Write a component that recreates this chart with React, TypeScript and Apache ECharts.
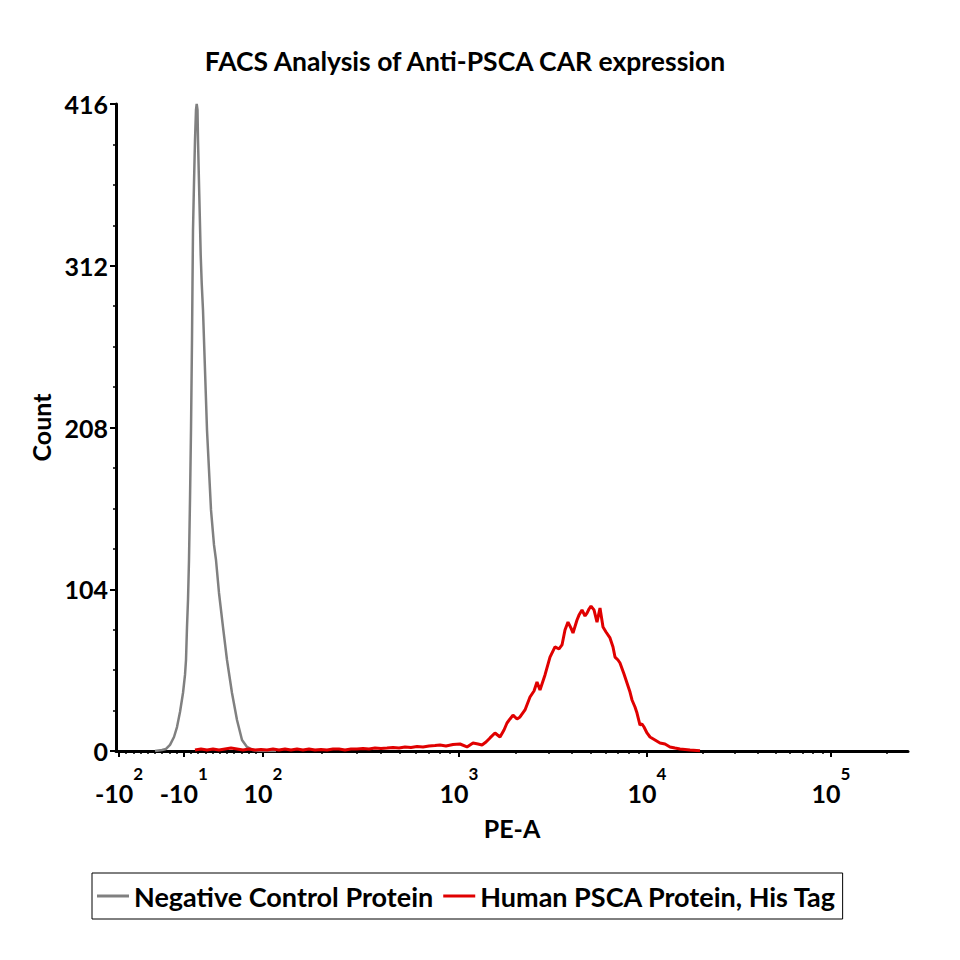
import React, { useEffect, useRef } from 'react';
import * as echarts from 'echarts';

const TITLE = 'FACS Analysis of Anti-PSCA CAR expression';
const X_NAME = 'PE-A';
const Y_NAME = 'Count';
const SERIES_NAMES = ['Negative Control Protein', 'Human PSCA Protein, His Tag'];
const SERIES_COLORS = ['#808080', '#e00000'];

const Y_MAX = 416;
const Y_INTERVAL = 104;

// display channel scale (biexponential display), 0..X_MAX_CH
const X_MAX_CH = 792;
const ZERO_CH = 75;
const LIN_SLOPE = 0.72; // channels per intensity unit in the linear zone
const DECADE_CH: Record<number, number> = { 2: 147, 3: 343, 4: 531, 5: 715 };

// major ticks (intensity values) and labels as base / exponent
const MAJOR_VALUES = [-100, -10, 100, 1000, 10000, 100000];
const MAJOR_BASE = ['-10', '-10', '10', '10', '10', '10'];
const MAJOR_EXP = ['2', '1', '2', '3', '4', '5'];
const MINOR_VALUES = [
  -90, -80, -70, -60, -50, -40, -30, -20, 0, 10, 20, 30, 40, 50, 60, 70, 80, 90,
  200, 300, 400, 500, 600, 700, 800, 900,
  2000, 3000, 4000, 5000, 6000, 7000, 8000, 9000,
  20000, 30000, 40000, 50000, 60000, 70000, 80000, 90000, 200000,
];

// histogram: [display channel, count]
const NEG_CONTROL: [number, number][] = [
  [39, 0], [46, 0.6], [50, 1.3], [54, 3.9], [58, 9.0], [61, 15.4], [64, 25.1],
  [67, 37.3], [69, 48.9], [70, 58.5], [71, 79.7], [72, 97.1], [73, 122.8],
  [74, 161.4], [75, 206.4], [76, 264.3], [76.5, 300.9], [77, 335.0], [78, 365.2],
  [79, 392.9], [80, 412.2], [80.7, 416], [81.5, 412.2], [82, 392.9], [83, 365.2],
  [84, 338.2], [84.7, 318.9], [85.7, 300.9], [87, 283.5], [88, 264.3], [89, 245.0],
  [90, 225.7], [91, 206.4], [93, 180.7], [95, 155.0], [98, 132.5], [100, 122.8],
  [103, 101.6], [107, 79.7], [111, 58.5], [116, 37.3], [121, 19.9], [126, 7.1],
  [131, 2.6], [137, 0.6], [146, 0], [160, 0],
];

const PSCA: [number, number][] = [
  [79, 0.6], [85, 1.3], [91, 0.6], [97, 1.3], [103, 0.6], [109, 1.3], [115, 1.9],
  [121, 1.3], [127, 0.6], [133, 1.3], [139, 0.6], [145, 1.0], [151, 0.6], [157, 1.3],
  [163, 0.6], [169, 1.3], [175, 0.6], [181, 1.3], [187, 0.6], [193, 1.3], [199, 0.6],
  [205, 1.0], [211, 0.6], [217, 1.3], [223, 1.3], [229, 0.6], [235, 1.3], [241, 1.3],
  [247, 1.6], [253, 1.3], [259, 1.9], [265, 1.6], [271, 1.9], [277, 2.3], [283, 1.9],
  [289, 2.6], [295, 2.3], [301, 2.9], [307, 2.6], [313, 3.2], [319, 3.5], [324, 3.9],
  [330, 3.2], [337, 4.2], [344, 4.5], [351, 2.6], [357, 5.1], [362, 4.5], [366, 3.9],
  [370, 5.8], [374, 8.4], [379, 11.6], [384, 9.0], [388, 13.5], [391, 18.0],
  [394, 20.6], [397, 23.1], [401, 20.6], [404, 21.9], [409, 26.4], [414, 34.7],
  [418, 38.6], [421, 44.4], [424, 39.2], [429, 48.9], [434, 60.4], [439, 66.9],
  [443, 65.6], [446, 68.2], [449, 77.8], [452, 82.9], [455, 79.0], [457, 75.9],
  [461, 84.2], [463, 87.4], [466, 90.7], [469, 86.8], [471, 88.7], [473, 91.3],
  [475, 93.2], [478, 90.7], [481, 82.9], [484, 91.9], [487, 79.7], [490, 76.5],
  [494, 72.7], [497, 66.9], [499, 60.4], [502, 58.5], [504, 56.6], [508, 49.5],
  [511, 43.7], [514, 37.9], [516, 32.8], [519, 28.3], [521, 24.4], [524, 16.7],
  [526, 17.4], [528, 15.4], [531, 11.6], [534, 9.0], [539, 7.1], [544, 5.1],
  [549, 4.5], [554, 2.6], [559, 1.9], [564, 1.3], [574, 0.6], [584, 0.2],
];

function toChannel(v: number): number {
  if (Math.abs(v) <= 100) return ZERO_CH + v * LIN_SLOPE;
  if (v < 0) return 2 * ZERO_CH - toChannel(-v);
  const e = Math.log10(v);
  let d = Math.floor(e);
  if (d >= 5) d = 4;
  return DECADE_CH[d] + (e - d) * (DECADE_CH[d + 1] - DECADE_CH[d]);
}

const FONT = 'Lato';

export default function App() {
  const ref = useRef<HTMLDivElement>(null);
  useEffect(() => {
    if (!ref.current) return;
    const chart = echarts.init(ref.current, undefined, { renderer: 'svg' });
    const majorCh = MAJOR_VALUES.map(toChannel);
    const minorCh = MINOR_VALUES.map(toChannel);
    const nearestMajor = (v: number) => {
      let best = 0;
      majorCh.forEach((c, i) => {
        if (Math.abs(c - v) < Math.abs(majorCh[best] - v)) best = i;
      });
      return best;
    };
    const option: any = {
      animation: false,
      backgroundColor: '#ffffff',
      title: {
        text: TITLE,
        left: 460,
        textAlign: 'center',
        top: 42,
        textStyle: { fontFamily: FONT, fontWeight: 'bold', fontSize: 26.5, color: '#000' },
      },
      legend: {
        left: 92,
        top: 873,
        orient: 'horizontal',
        icon: 'rect',
        itemWidth: 32,
        itemHeight: 3,
        itemGap: 10,
        padding: [7, 6, 7, 5],
        borderColor: '#000',
        borderWidth: 1,
        textStyle: { fontFamily: FONT, fontWeight: 'bold', fontSize: 27, color: '#000', lineHeight: 32 },
        data: SERIES_NAMES,
      },
      grid: { left: 116, right: 960 - 116 - X_MAX_CH, top: 104, bottom: 209, containLabel: false },
      xAxis: [
        {
          type: 'value',
          min: 0,
          max: X_MAX_CH,
          position: 'bottom',
          name: X_NAME,
          nameLocation: 'middle',
          nameGap: 64,
          nameTextStyle: { fontFamily: FONT, fontWeight: 'bold', fontSize: 25, color: '#000' },
          axisLine: { show: true, lineStyle: { color: '#000', width: 3 } },
          axisTick: { show: true, customValues: majorCh, length: 6, lineStyle: { color: '#000', width: 2 } },
          axisLabel: {
            show: true,
            customValues: majorCh,
            margin: 26,
            formatter: (v: number) => {
              const i = nearestMajor(v);
              return `{b|${MAJOR_BASE[i]}}{s|${MAJOR_EXP[i]}}`;
            },
            rich: {
              b: { fontFamily: FONT, fontWeight: 'bold', fontSize: 25, color: '#000', lineHeight: 28, verticalAlign: 'bottom' },
              s: { fontFamily: FONT, fontWeight: 'bold', fontSize: 17, color: '#000', lineHeight: 17, verticalAlign: 'bottom', padding: [0, 0, 23, 0] },
            },
          },
          splitLine: { show: false },
        },
        {
          type: 'value',
          min: 0,
          max: X_MAX_CH,
          position: 'bottom',
          offset: 0,
          axisLine: { show: false },
          axisTick: { show: true, customValues: minorCh, length: 3, lineStyle: { color: '#000', width: 1.5 } },
          axisLabel: { show: false },
          splitLine: { show: false },
        },
      ],
      yAxis: {
        type: 'value',
        min: 0,
        max: Y_MAX,
        interval: Y_INTERVAL,
        name: Y_NAME,
        nameLocation: 'middle',
        nameRotate: 90,
        nameGap: 56,
        nameTextStyle: { fontFamily: FONT, fontWeight: 'bold', fontSize: 25, color: '#000' },
        axisLine: { show: true, lineStyle: { color: '#000', width: 3 } },
        axisTick: { show: true, length: 6, lineStyle: { color: '#000', width: 2 } },
        minorTick: { show: true, splitNumber: 4, length: 3, lineStyle: { color: '#000', width: 1.5 } },
        axisLabel: { margin: 8, fontFamily: FONT, fontWeight: 'bold', fontSize: 25, color: '#000' },
        splitLine: { show: false },
        minorSplitLine: { show: false },
      },
      series: [
        {
          name: SERIES_NAMES[0],
          type: 'line',
          data: NEG_CONTROL,
          symbol: 'none',
          z: 3,
          lineStyle: { color: SERIES_COLORS[0], width: 2.5 },
          itemStyle: { color: SERIES_COLORS[0] },
        },
        {
          name: SERIES_NAMES[1],
          type: 'line',
          data: PSCA,
          symbol: 'none',
          z: 4,
          lineStyle: { color: SERIES_COLORS[1], width: 3 },
          itemStyle: { color: SERIES_COLORS[1] },
        },
      ],
    };
    chart.setOption(option);
    return () => chart.dispose();
  }, []);
  return (
    <div
      ref={ref}
      style={{ position: 'fixed', left: 0, top: 0, width: 960, height: 960, background: '#fff' }}
    />
  );
}
